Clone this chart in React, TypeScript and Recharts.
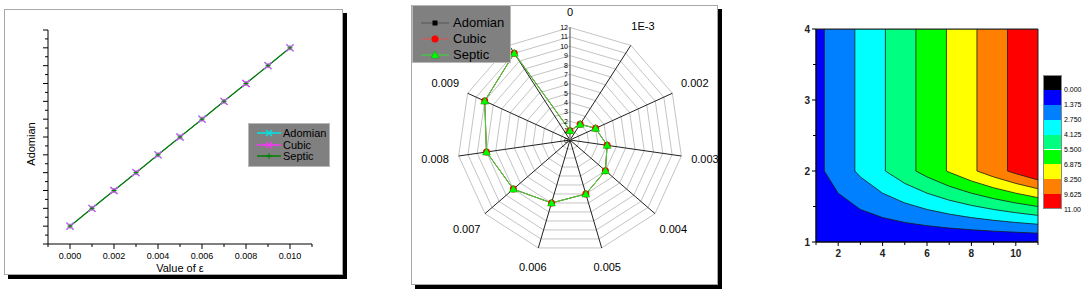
import React from 'react';
import {
  LineChart,
  Line,
  XAxis,
  YAxis,
  Legend,
  RadarChart,
  Radar,
  PolarGrid,
  PolarAngleAxis,
  PolarRadiusAxis,
  ComposedChart,
  Area,
  ReferenceArea,
} from 'recharts';

const FONT = '"Liberation Sans", Arial, sans-serif';

// ---- left panel: line chart ----
const epsValues = [0, 0.001, 0.002, 0.003, 0.004, 0.005, 0.006, 0.007, 0.008, 0.009, 0.01];
const adomianValues = [1, 2, 3, 4, 5, 6, 7, 8, 9, 10, 11];
const cubicValues = [1, 2, 3, 4, 5, 6, 7, 8, 9, 10, 11];
const septicValues = [1, 2, 3, 4, 5, 6, 7, 8, 9, 10, 11];
const epsTicks = [-0.001, 0, 0.001, 0.002, 0.003, 0.004, 0.005, 0.006, 0.007, 0.008, 0.009, 0.01, 0.011];
const epsLabelTicks = [0, 0.002, 0.004, 0.006, 0.008, 0.01];
const adomianTicks = [0, 0.5, 1, 1.5, 2, 2.5, 3, 3.5, 4, 4.5, 5, 5.5, 6, 6.5, 7, 7.5, 8, 8.5, 9, 9.5, 10, 10.5, 11, 11.5, 12];

// ---- middle panel: radar ----
const radarCategories = ['0', '1E-3', '0.002', '0.003', '0.004', '0.005', '0.006', '0.007', '0.008', '0.009', '0.010'];
const radarAdomian = [1, 2, 3, 4, 5, 6, 7, 8, 9, 10, 11];
const radarCubic = [1, 2, 3, 4, 5, 6, 7, 8, 9, 10, 11];
const radarSeptic = [1, 2, 3, 4, 5, 6, 7, 8, 9, 10, 11];

// ---- right panel: contour ----
const gridX = [1, 2, 3, 4, 5, 6, 7, 8, 9, 10, 11];
const gridY = [1, 2, 3, 4];
const gridZ = [
  [0, 0, 0, 0, 0, 0, 0, 0, 0, 0, 0],
  [1, 2, 3, 4, 5, 6, 7, 8, 9, 10, 11],
  [1, 2, 3, 4, 5, 6, 7, 8, 9, 10, 11],
  [1, 2, 3, 4, 5, 6, 7, 8, 9, 10, 11],
];
const contourLevels = [0, 1.375, 2.75, 4.125, 5.5, 6.875, 8.25, 9.625, 11];
const levelLabels = ['0.000', '1.375', '2.750', '4.125', '5.500', '6.875', '8.250', '9.625', '11.00'];
const levelColors = ['#000000', '#0000ff', '#0080ff', '#00ffff', '#00ff80', '#00ff00', '#ffff00', '#ff8000', '#ff0000'];
const gridXTicks = [1, 2, 3, 4, 5, 6, 7, 8, 9, 10, 11];
const gridYTicks = [1, 1.5, 2, 2.5, 3, 3.5, 4];

const lineData = epsValues.map((eps, i) => ({
  eps,
  adomian: adomianValues[i],
  cubic: cubicValues[i],
  septic: septicValues[i],
}));

const radarData = radarCategories.map((name, i) => ({
  name,
  adomian: radarAdomian[i],
  cubic: radarCubic[i],
  septic: radarSeptic[i],
}));

// boundary of the region z < level, traced over the grid (linear interpolation in cells)
function levelBoundary(level: number) {
  const top = gridY[gridY.length - 1];
  const maxZ = Math.max(...gridZ.map((r) => Math.max(...r)));
  if (level >= maxZ) {
    return [{ x: gridX[0], y: top }, { x: gridX[gridX.length - 1], y: top }];
  }
  const crossY = (i: number) => {
    for (let j = 1; j < gridY.length; j++) {
      const z0 = gridZ[j - 1][i];
      const z1 = gridZ[j][i];
      if (z0 >= level) return gridY[j - 1];
      if (z1 >= level) return gridY[j - 1] + ((level - z0) / (z1 - z0)) * (gridY[j] - gridY[j - 1]);
    }
    return null;
  };
  const pts: { x: number; y: number }[] = [];
  let reached = false;
  gridX.forEach((x, i) => {
    const cy = crossY(i);
    if (cy === null) {
      pts.push({ x, y: top });
      return;
    }
    if (!reached && i > 0) {
      for (let j = gridY.length - 1; j >= 0; j--) {
        const za = gridZ[j][i - 1];
        const zb = gridZ[j][i];
        if (za < level && zb >= level) {
          pts.push({ x: gridX[i - 1] + ((level - za) / (zb - za)) * (x - gridX[i - 1]), y: gridY[j] });
        } else break;
      }
    }
    reached = true;
    pts.push({ x, y: cy });
  });
  return pts;
}

// bands drawn from the top level down, each filling below its upper boundary
const contourBands = contourLevels
  .map((level, k) => ({ k, level }))
  .filter((b) => b.k > 0)
  .reverse()
  .map((b) => ({ color: levelColors[b.k], points: levelBoundary(b.level) }));

// ---- markers ----
const XMark = ({ cx, cy, color, size = 3.5 }: any) => (
  <g>
    <line x1={cx - size} y1={cy - size} x2={cx + size} y2={cy + size} stroke={color} strokeWidth={1.2} />
    <line x1={cx - size} y1={cy + size} x2={cx + size} y2={cy - size} stroke={color} strokeWidth={1.2} />
  </g>
);
const PlusMark = ({ cx, cy, color, size = 2.5 }: any) => (
  <g>
    <line x1={cx - size} y1={cy} x2={cx + size} y2={cy} stroke={color} strokeWidth={1} />
    <line x1={cx} y1={cy - size} x2={cx} y2={cy + size} stroke={color} strokeWidth={1} />
  </g>
);
const SquareMark = ({ cx, cy, color }: any) => <rect x={cx - 2.5} y={cy - 2.5} width={5} height={5} fill={color} />;
const CircleMark = ({ cx, cy, color }: any) => <circle cx={cx} cy={cy} r={3.5} fill={color} />;
const TriangleMark = ({ cx, cy, color }: any) => (
  <polygon points={`${cx},${cy - 4} ${cx + 4},${cy + 3} ${cx - 4},${cy + 3}`} fill={color} stroke="#00a000" strokeWidth={0.5} />
);

const lineSeries = [
  { key: 'adomian', name: 'Adomian', color: '#00e5e5', Mark: XMark },
  { key: 'cubic', name: 'Cubic', color: '#ff33ff', Mark: XMark },
  { key: 'septic', name: 'Septic', color: '#008000', Mark: PlusMark },
];
const radarSeries = [
  { key: 'adomian', name: 'Adomian', color: '#000000', line: '#555555', Mark: SquareMark },
  { key: 'cubic', name: 'Cubic', color: '#ff0000', line: '#e05050', Mark: CircleMark },
  { key: 'septic', name: 'Septic', color: '#00ff00', line: '#33dd33', Mark: TriangleMark },
];

// ---- ticks ----
const EpsTick = ({ x, y, payload }: any) => {
  const major = epsLabelTicks.some((t) => Math.abs(t - payload.value) < 1e-9);
  return (
    <g>
      <line x1={x} y1={y} x2={x} y2={y + (major ? 5 : 3)} stroke="#000" />
      {major && (
        <text x={x} y={y + 15} textAnchor="middle" fontSize={9} fontFamily={FONT} fill="#000">
          {payload.value.toFixed(3)}
        </text>
      )}
    </g>
  );
};
const AdomianTick = ({ x, y, payload }: any) => (
  <line x1={x} y1={y} x2={x - (Number.isInteger(payload.value) ? 5 : 3)} y2={y} stroke="#000" />
);
const GridXTick = ({ x, y, payload }: any) => {
  const labeled = payload.value % 2 === 0;
  return (
    <g>
      <line x1={x} y1={y} x2={x} y2={y + (labeled ? 4 : 3)} stroke="#000" />
      {labeled && (
        <text x={x} y={y + 15} textAnchor="middle" fontSize={10} fontWeight="bold" fontFamily={FONT} fill="#222">
          {payload.value}
        </text>
      )}
    </g>
  );
};
const GridYTick = ({ x, y, payload }: any) => {
  const labeled = Number.isInteger(payload.value);
  return (
    <g>
      <line x1={x} y1={y} x2={x - (labeled ? 4 : 3)} y2={y} stroke="#000" />
      {labeled && (
        <text x={x - 6} y={y} textAnchor="end" dominantBaseline="central" fontSize={10} fontWeight="bold" fontFamily={FONT} fill="#222">
          {payload.value}
        </text>
      )}
    </g>
  );
};
const AngleTick = ({ x, y, payload }: any) => {
  const a = (payload.coordinate * Math.PI) / 180;
  const c = Math.cos(a);
  const s = Math.sin(a);
  const extra = 1 + 14 * Math.abs(c) + 7 * Math.abs(s);
  return (
    <text x={x + extra * c} y={y - extra * s} textAnchor="middle" dominantBaseline="central" fontSize={11} fontFamily={FONT} fill="#000">
      {payload.value}
    </text>
  );
};
const RadiusTick = ({ x, y, payload }: any) => (
  <text x={x - 2} y={y} textAnchor="end" dominantBaseline="central" fontSize={7} fontFamily={FONT} fill="#000">
    {payload.value}
  </text>
);

// ---- legends ----
const LeftLegend = () => (
  <div style={{ width: 82, height: 44, boxSizing: 'border-box', background: '#808080', border: '1px solid #b8b8b8', position: 'relative' }}>
    {lineSeries.map((s, i) => (
      <div key={s.key} style={{ position: 'absolute', left: 0, top: 3 + i * 11.5, height: 12, width: 82 }}>
        <svg width={34} height={12} style={{ position: 'absolute', left: 6, top: 0 }}>
          <line x1={2} y1={6} x2={26} y2={6} stroke={s.color} strokeWidth={1.5} />
          <s.Mark cx={14} cy={6} color={s.color} size={3} />
        </svg>
        <span style={{ position: 'absolute', left: 34, top: 0, fontSize: 11, lineHeight: '12px', fontFamily: FONT, color: '#000' }}>{s.name}</span>
      </div>
    ))}
  </div>
);
const RadarLegend = () => (
  <div style={{ width: 99, height: 58, boxSizing: 'border-box', background: '#808080', border: '1px solid #b8b8b8', position: 'relative' }}>
    {radarSeries.map((s, i) => (
      <div key={s.key} style={{ position: 'absolute', left: 0, top: 9 + i * 16, height: 16, width: 99 }}>
        <svg width={32} height={16} style={{ position: 'absolute', left: 6, top: 0 }}>
          <line x1={2} y1={8} x2={30} y2={8} stroke={s.line} strokeWidth={1} />
          <s.Mark cx={16} cy={8} color={s.color} />
        </svg>
        <span style={{ position: 'absolute', left: 40, top: 0, fontSize: 13, lineHeight: '16px', fontFamily: FONT, color: '#000' }}>{s.name}</span>
      </div>
    ))}
  </div>
);
const ColorBar = () => (
  <div style={{ position: 'relative', width: 44, height: 140 }}>
    {levelColors.map((c, i) => (
      <div key={c} style={{ position: 'absolute', left: 0, top: i * 14.9, width: 19, height: 14.9, background: c }} />
    ))}
    <div style={{ position: 'absolute', left: 0, top: 0, width: 19, height: 134.1, boxSizing: 'border-box', border: '1px solid #888' }} />
    {levelLabels.map((t, i) => (
      <span key={t} style={{ position: 'absolute', left: 21, top: (i + 1) * 14.9 - 4.5, fontSize: 7, lineHeight: '9px', fontFamily: FONT, color: '#000' }}>
        {t}
      </span>
    ))}
  </div>
);

const frameStyle = (left: number, top: number, width: number, height: number): React.CSSProperties => ({
  position: 'absolute',
  left,
  top,
  width,
  height,
  boxSizing: 'border-box',
  border: '1px solid #a8a8a8',
  boxShadow: '4px 4px 0 #000',
  background: '#fff',
});

export default function App() {
  return (
    <div style={{ position: 'absolute', left: 0, top: 0, width: 1084, height: 293, background: '#fff', overflow: 'hidden' }}>
      <div style={frameStyle(4, 9, 339, 266)} />
      <div style={frameStyle(411, 5, 307, 280)} />

      <div style={{ position: 'absolute', left: 4, top: 9 }}>
        <LineChart width={339} height={266} data={lineData} margin={{ top: 21, right: 31, left: 0, bottom: 0 }}>
          <XAxis
            dataKey="eps"
            type="number"
            domain={[-0.001, 0.011]}
            ticks={epsTicks}
            interval={0}
            height={31}
            tickSize={0}
            tickMargin={0}
            tickLine={false}
            tick={<EpsTick />}
            stroke="#000"
            allowDataOverflow
            label={{
              content: ({ viewBox }: any) => (
                <text x={viewBox.x + viewBox.width / 2} y={viewBox.y + 28} textAnchor="middle" fontSize={11} fontFamily={FONT} fill="#000">
                  Value of ε
                </text>
              ),
            }}
          />
          <YAxis
            type="number"
            domain={[0, 12]}
            ticks={adomianTicks}
            interval={0}
            width={44}
            tickSize={0}
            tickMargin={0}
            tickLine={false}
            tick={<AdomianTick />}
            stroke="#000"
            label={{
              content: ({ viewBox }: any) => (
                <text
                  transform={`translate(${viewBox.x + 27}, ${viewBox.y + viewBox.height / 2 + 7}) rotate(-90)`}
                  textAnchor="middle"
                  dominantBaseline="central"
                  fontSize={11}
                  fontFamily={FONT}
                  fill="#000"
                >
                  Adomian
                </text>
              ),
            }}
          />
          {lineSeries.map((s) => (
            <Line
              key={s.key}
              dataKey={s.key}
              name={s.name}
              type="linear"
              stroke={s.color}
              strokeWidth={s.key === 'septic' ? 1.3 : 1}
              isAnimationActive={false}
              dot={(p: any) => <s.Mark key={`${s.key}-${p.index}`} cx={p.cx} cy={p.cy} color={s.color} />}
              activeDot={false}
            />
          ))}
          <Legend
            layout="horizontal"
            verticalAlign="middle"
            align="center"
            content={() => <LeftLegend />}
            wrapperStyle={{ left: 244, top: 114, width: 82, height: 44, zIndex: 5 }}
          />
        </LineChart>
      </div>

      <div style={{ position: 'absolute', left: 411, top: 5 }}>
        <RadarChart width={307} height={280} data={radarData} cx={159} cy={135} outerRadius={112.5} startAngle={90} endAngle={-270}>
          <PolarGrid gridType="polygon" radialLines={false} stroke="#c4c4c4" strokeWidth={1} />
          <PolarGrid gridType="polygon" polarRadius={[0]} stroke="#222" strokeWidth={1} />
          <PolarAngleAxis dataKey="name" tickSize={8} tickLine={false} axisLine={false} tick={<AngleTick />} />
          <PolarRadiusAxis angle={90} domain={[0, 12]} tickCount={13} axisLine={{ stroke: '#b0b0b0' }} tickLine={false} tick={<RadiusTick />} />
          {radarSeries.map((s) => (
            <Radar
              key={s.key}
              dataKey={s.key}
              name={s.name}
              stroke={s.line}
              strokeWidth={1}
              fill="none"
              fillOpacity={0}
              isAnimationActive={false}
              dot={(p: any) => <s.Mark key={`${s.key}-${p.index}`} cx={p.cx} cy={p.cy} color={s.color} />}
            />
          ))}
          <Legend
            layout="horizontal"
            verticalAlign="middle"
            align="center"
            content={() => <RadarLegend />}
            wrapperStyle={{ left: 1, top: 0, width: 99, height: 58, zIndex: 5 }}
          />
        </RadarChart>
      </div>

      <div style={{ position: 'absolute', left: 780, top: 0 }}>
        <ComposedChart width={304} height={293} margin={{ top: 29, right: 46, left: 0, bottom: 0 }}>
          <XAxis
            dataKey="x"
            type="number"
            domain={[1, 11]}
            ticks={gridXTicks}
            interval={0}
            height={51}
            tickSize={0}
            tickMargin={0}
            tickLine={false}
            tick={<GridXTick />}
            stroke="#000"
            allowDataOverflow
          />
          <YAxis
            dataKey="y"
            type="number"
            domain={[1, 4]}
            ticks={gridYTicks}
            interval={0}
            width={36}
            tickSize={0}
            tickMargin={0}
            tickLine={false}
            tick={<GridYTick />}
            stroke="#000"
            allowDataOverflow
          />
          {contourBands.map((b) => (
            <Area
              key={b.color}
              data={b.points}
              dataKey="y"
              type="linear"
              baseValue={1}
              fill={b.color}
              fillOpacity={1}
              stroke="#1a1a1a"
              strokeWidth={0.8}
              dot={false}
              activeDot={false}
              isAnimationActive={false}
            />
          ))}
          <ReferenceArea x1={1} x2={11} y1={1} y2={4} fill="none" stroke="#222" strokeWidth={1} ifOverflow="visible" />
          <Legend
            layout="horizontal"
            verticalAlign="middle"
            align="center"
            content={() => <ColorBar />}
            wrapperStyle={{ left: 263, top: 75, width: 44, height: 140 }}
          />
        </ComposedChart>
      </div>
    </div>
  );
}
